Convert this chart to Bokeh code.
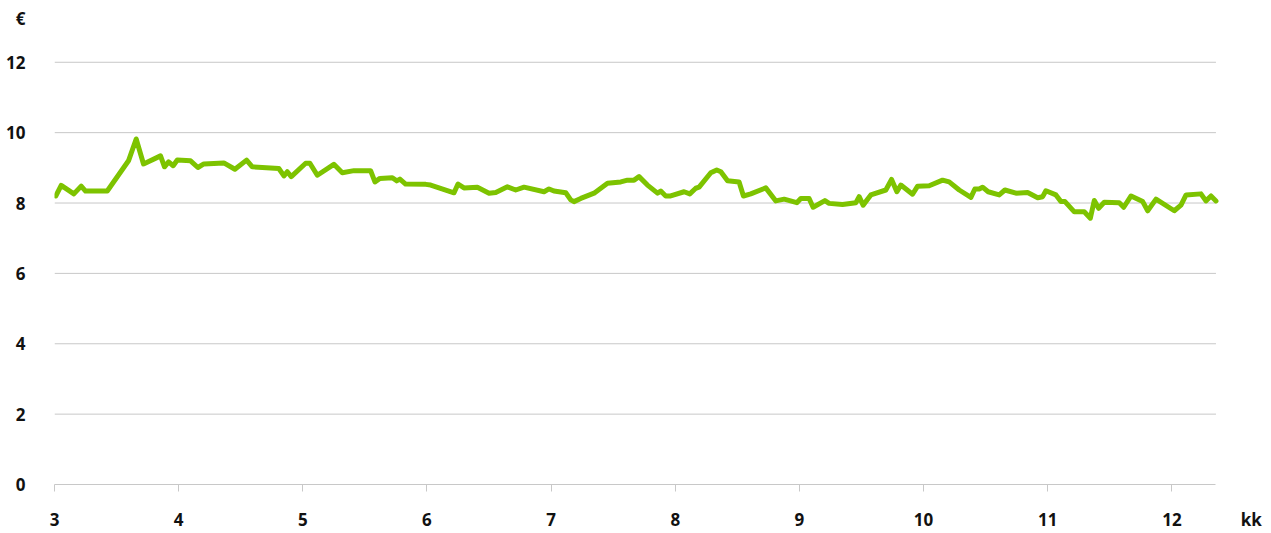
from bokeh.plotting import figure
from bokeh.models import Range1d, FixedTicker, LinearAxis
from bokeh.embed import file_html
from bokeh.resources import INLINE

# month (kk) as fractional position, price in euros
month = [3.01, 3.054, 3.156, 3.215, 3.25, 3.425, 3.596, 3.658, 3.717, 3.854,
         3.886, 3.919, 3.956, 3.989, 4.096, 4.155, 4.203, 4.364, 4.453, 4.547,
         4.593, 4.807, 4.848, 4.875, 4.907, 5.023, 5.057, 5.117, 5.25, 5.318,
         5.412, 5.546, 5.581, 5.621, 5.721, 5.756, 5.782, 5.828, 5.99, 6.03,
         6.218, 6.25, 6.298, 6.406, 6.5, 6.554, 6.648, 6.715, 6.782, 6.943,
         6.983, 7.023, 7.118, 7.158, 7.184, 7.239, 7.346, 7.454, 7.561, 7.615,
         7.668, 7.708, 7.776, 7.857, 7.883, 7.923, 7.963, 8.071, 8.117, 8.165,
         8.192, 8.286, 8.334, 8.367, 8.421, 8.514, 8.549, 8.608, 8.729, 8.81,
         8.877, 8.979, 9.011, 9.078, 9.11, 9.205, 9.239, 9.347, 9.455, 9.481,
         9.513, 9.575, 9.696, 9.742, 9.785, 9.817, 9.911, 9.952, 10.045, 10.153,
         10.206, 10.287, 10.381, 10.413, 10.448, 10.475, 10.52, 10.609, 10.655, 10.744,
         10.838, 10.919, 10.959, 10.985, 11.066, 11.106, 11.139, 11.214, 11.294, 11.343,
         11.375, 11.41, 11.455, 11.576, 11.612, 11.671, 11.765, 11.805, 11.872, 12.019,
         12.073, 12.114, 12.234, 12.274, 12.315, 12.355]
price = [8.20, 8.50, 8.26, 8.48, 8.34, 8.34, 9.20, 9.82, 9.11, 9.34,
         9.03, 9.17, 9.06, 9.22, 9.20, 9.01, 9.11, 9.14, 8.96, 9.22,
         9.03, 8.98, 8.77, 8.89, 8.75, 9.13, 9.13, 8.79, 9.10, 8.86,
         8.92, 8.92, 8.60, 8.70, 8.72, 8.63, 8.68, 8.54, 8.53, 8.51,
         8.29, 8.54, 8.43, 8.45, 8.28, 8.30, 8.46, 8.37, 8.45, 8.32,
         8.40, 8.34, 8.29, 8.09, 8.04, 8.13, 8.28, 8.56, 8.60, 8.65,
         8.65, 8.75, 8.51, 8.28, 8.34, 8.20, 8.20, 8.32, 8.26, 8.42,
         8.45, 8.86, 8.94, 8.89, 8.63, 8.60, 8.20, 8.26, 8.43, 8.06,
         8.11, 8.01, 8.13, 8.13, 7.88, 8.07, 7.99, 7.96, 8.01, 8.18,
         7.94, 8.23, 8.37, 8.67, 8.32, 8.51, 8.25, 8.48, 8.49, 8.65,
         8.60, 8.37, 8.16, 8.40, 8.40, 8.45, 8.32, 8.23, 8.37, 8.28,
         8.30, 8.15, 8.18, 8.35, 8.23, 8.04, 8.04, 7.75, 7.75, 7.57,
         8.07, 7.85, 8.02, 8.01, 7.88, 8.20, 8.04, 7.78, 8.11, 7.78,
         7.94, 8.23, 8.26, 8.06, 8.20, 8.06]

x_ticks = [3, 4, 5, 6, 7, 8, 9, 10, 11, 12]
y_ticks = [0, 2, 4, 6, 8, 10, 12]
x_unit = "kk"
y_unit = "€"
x_unit_pos = 12.64   # where the unit label sits on the month scale
y_unit_pos = 13.25   # where the unit label sits on the euro scale

FONT = "Noto Sans"
TXT = "#111111"
GRID = "#c8c8c8"
x_end = month[-1]

p = figure(width=1271, height=533, output_backend="svg", toolbar_location=None,
           x_range=Range1d(3, 12.77), y_range=Range1d(0, 13.5),
           min_border_left=54, min_border_right=4, min_border_top=9,
           min_border_bottom=48, x_axis_location=None)
p.outline_line_color = None
p.background_fill_color = "white"
p.xgrid.visible = False
p.ygrid.visible = False

# horizontal gridlines, only as wide as the data span
grid_vals = y_ticks[1:]
p.segment(x0=[x_ticks[0]] * len(grid_vals), x1=[x_end] * len(grid_vals),
          y0=grid_vals, y1=grid_vals, line_color=GRID, line_width=1)

p.line(month, price, line_color="#7dc300", line_width=5, line_join="round", line_cap="round")

# axis line + tick marks
ax_line = LinearAxis(ticker=FixedTicker(ticks=x_ticks), bounds=(x_ticks[0], x_end))
ax_line.axis_line_color = GRID
ax_line.major_tick_line_color = GRID
ax_line.major_tick_in = 0
ax_line.major_tick_out = 7
ax_line.minor_tick_line_color = None
ax_line.major_label_text_font_size = "0px"
ax_line.major_label_text_alpha = 0
ax_line.major_label_standoff = 0

# tick labels + unit label
ax_lab = LinearAxis(ticker=FixedTicker(ticks=x_ticks + [x_unit_pos]),
                    major_label_overrides={x_unit_pos: x_unit})
ax_lab.axis_line_color = None
ax_lab.major_tick_line_color = None
ax_lab.minor_tick_line_color = None
ax_lab.major_tick_in = 0
ax_lab.major_tick_out = 0
ax_lab.major_label_standoff = 16
ax_lab.major_label_text_font = FONT
ax_lab.major_label_text_font_style = "bold"
ax_lab.major_label_text_font_size = "17px"
ax_lab.major_label_text_color = TXT

p.add_layout(ax_line, "below")
p.add_layout(ax_lab, "below")

ya = p.yaxis[0]
ya.ticker = FixedTicker(ticks=y_ticks + [y_unit_pos])
ya.major_label_overrides = {y_unit_pos: y_unit}
ya.axis_line_color = None
ya.major_tick_line_color = None
ya.minor_tick_line_color = None
ya.major_tick_in = 0
ya.major_tick_out = 0
ya.major_label_standoff = 29
ya.major_label_text_font = FONT
ya.major_label_text_font_style = "bold"
ya.major_label_text_font_size = "17px"
ya.major_label_text_color = TXT

open("out.html", "w").write(file_html(p, INLINE))
